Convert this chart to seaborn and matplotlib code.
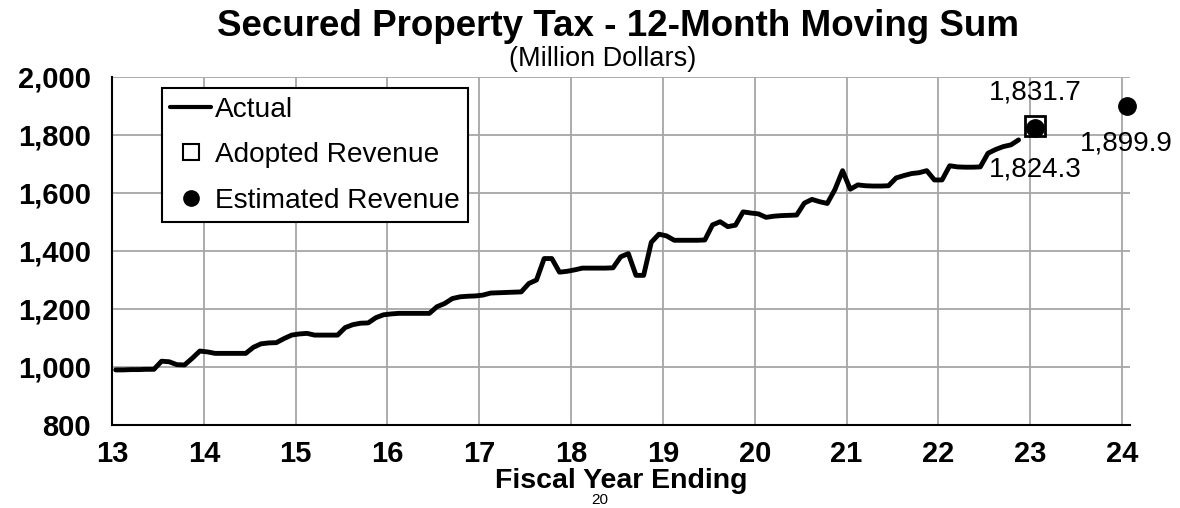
import numpy as np
import pandas as pd
import matplotlib
matplotlib.use('Agg')
import matplotlib.pyplot as plt
from matplotlib.ticker import FuncFormatter
from matplotlib.lines import Line2D
import seaborn as sns

# ---- data (million dollars), monthly 12-month moving sum ----
start_year = 13.04
actual_fy13 = [990, 990, 991, 991, 992, 992, 1020, 1018, 1008, 1007, 1030, 1055]
actual_fy14 = [1052, 1047, 1047, 1047, 1047, 1047, 1068, 1080, 1083, 1084, 1098, 1110]
actual_fy15 = [1114, 1116, 1110, 1110, 1110, 1110, 1136, 1146, 1151, 1152, 1170, 1180]
actual_fy16 = [1183, 1185, 1185, 1185, 1185, 1185, 1208, 1219, 1236, 1242, 1244, 1245]
actual_fy17 = [1248, 1255, 1256, 1257, 1258, 1259, 1288, 1300, 1374, 1374, 1327, 1330]
actual_fy18 = [1335, 1341, 1341, 1341, 1341, 1342, 1380, 1391, 1316, 1316, 1430, 1458]
actual_fy19 = [1452, 1437, 1437, 1437, 1437, 1438, 1490, 1501, 1484, 1489, 1535, 1531]
actual_fy20 = [1528, 1516, 1520, 1522, 1523, 1524, 1565, 1578, 1570, 1564, 1612, 1677]
actual_fy21 = [1613, 1628, 1625, 1624, 1624, 1625, 1652, 1660, 1667, 1670, 1677, 1645]
actual_fy22 = [1645, 1694, 1690, 1689, 1689, 1690, 1737, 1750, 1760, 1766, 1783]

adopted_x = [23.05]
adopted_y = [1831.7]
estimated_x = [23.05, 24.05]
estimated_y = [1824.3, 1899.9]

x_ticks = list(range(13, 25))
y_ticks = [800, 1000, 1200, 1400, 1600, 1800, 2000]

title = "Secured Property Tax - 12-Month Moving Sum"
subtitle = "(Million Dollars)"
xlabel = "Fiscal Year Ending"
page_number = "20"

actual = (actual_fy13 + actual_fy14 + actual_fy15 + actual_fy16 + actual_fy17 +
          actual_fy18 + actual_fy19 + actual_fy20 + actual_fy21 + actual_fy22)
df = pd.DataFrame({"x": start_year + np.arange(len(actual)) / 12.0, "y": actual})

sns.set_theme(style="white")
plt.rcParams['font.family'] = ['Liberation Sans', 'DejaVu Sans']
plt.rcParams['text.color'] = 'black'
plt.rcParams['axes.labelcolor'] = 'black'
plt.rcParams['xtick.color'] = 'black'
plt.rcParams['ytick.color'] = 'black'

fig = plt.figure(figsize=(11.8, 5.08), dpi=100)
ax = fig.add_axes([112 / 1180, 1 - 425 / 508, (1130 - 112) / 1180, (425 - 77) / 508])

sns.lineplot(data=df, x="x", y="y", ax=ax, color="black", lw=3.5, zorder=3)
ax.plot(adopted_x, adopted_y, marker='s', ls='none', ms=14, mfc='white',
        mec='black', mew=2, zorder=4, clip_on=False)
ax.plot(estimated_x, estimated_y, marker='o', ls='none', ms=12.5, color='black',
        zorder=5, clip_on=False)

# labels
ax.annotate(f"{adopted_y[0]:,.1f}", (adopted_x[0], adopted_y[0]), xytext=(0, 24),
            textcoords='offset points', ha='center', va='center', fontsize=20)
ax.annotate(f"{estimated_y[0]:,.1f}", (estimated_x[0], estimated_y[0]), xytext=(0, -30),
            textcoords='offset points', ha='center', va='center', fontsize=20)
ax.annotate(f"{estimated_y[1]:,.1f}", (estimated_x[1], estimated_y[1]), xytext=(0, -27),
            textcoords='offset points', ha='center', va='center', fontsize=20)

ax.set_xlim(13, 24.087)
ax.set_ylim(800, 2000)
ax.set_xticks(x_ticks)
ax.set_yticks(y_ticks)
ax.yaxis.set_major_formatter(FuncFormatter(lambda v, p: f"{int(v):,}"))
ax.grid(True, color='#a6a6a6', lw=1.3)
ax.set_axisbelow(True)
for s in ['top', 'right']:
    ax.spines[s].set_visible(False)
for s in ['left', 'bottom']:
    ax.spines[s].set_color('black')
    ax.spines[s].set_linewidth(1.5)
ax.tick_params(axis='y', direction='out', length=6, width=1.3, color='black',
               labelsize=21, pad=9)
ax.tick_params(axis='x', direction='in', length=7, width=1.3, color='black',
               labelsize=21, pad=11)
for lab in ax.get_xticklabels() + ax.get_yticklabels():
    lab.set_fontweight('bold')
ax.set_xlabel(xlabel, fontsize=20.5, fontweight='bold', labelpad=0)
ax.set_ylabel("")

handles = [
    Line2D([], [], color='black', lw=3),
    Line2D([], [], marker='s', ls='none', ms=11, mfc='white', mec='black', mew=1.5),
    Line2D([], [], marker='o', ls='none', ms=11, color='black'),
]
leg = ax.legend(handles, ["Actual", "Adopted Revenue", "Estimated Revenue"],
                loc='upper left', bbox_to_anchor=(0.049, 0.968), borderaxespad=0,
                fontsize=20.2, frameon=True, fancybox=False, handlelength=1.45,
                handletextpad=0.15, borderpad=0.3, labelspacing=0.7)
leg.get_frame().set_edgecolor('black')
leg.get_frame().set_linewidth(1.5)
leg.get_frame().set_alpha(1)

fig.text(618 / 1180, 1 - 26 / 508, title, ha='center', va='center', fontsize=26.5,
         fontweight='bold')
fig.text(603 / 1180, 1 - 59 / 508, subtitle, ha='center', va='center', fontsize=19.5)
fig.text(600 / 1180, 1 - 507.5 / 508, page_number, ha='center', va='bottom', fontsize=11,
         zorder=0)

fig.savefig("out.png", dpi=100)
